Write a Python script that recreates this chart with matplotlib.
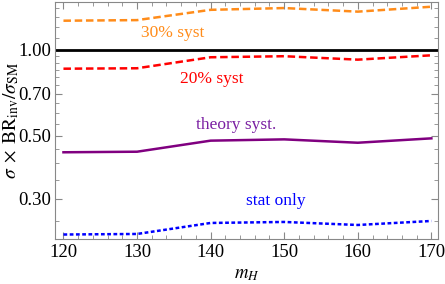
import numpy as np
import matplotlib
matplotlib.use("Agg")
import matplotlib.pyplot as plt
from matplotlib.ticker import FixedLocator, NullFormatter, MultipleLocator

plt.rcParams['font.family'] = ['Liberation Serif', 'DejaVu Serif']
plt.rcParams['mathtext.fontset'] = 'stix'

mh = [120, 130, 140, 150, 160, 170]
syst30 = [1.264, 1.27, 1.38, 1.40, 1.36, 1.415]
syst20 = [0.858, 0.861, 0.941, 0.949, 0.923, 0.956]
theory = [0.437, 0.439, 0.480, 0.485, 0.472, 0.489]
stat = [0.225, 0.226, 0.247, 0.249, 0.243, 0.251]
yticks = [0.30, 0.50, 0.70, 1.00]

fig = plt.figure(figsize=(4.45, 2.84), dpi=100)
ax = fig.add_axes([55/445, 1-239/284, 383/445, 237/284])

ax.axhline(1.0, color='black', lw=2)
ax.plot(mh, syst30, color='#ff8c1a', lw=1.8, ls=(0, (3, 1.5)))
ax.plot(mh, syst20, color='#ff0000', lw=1.8, ls=(0, (3, 1.5)))
ax.plot(mh, theory, color='#800080', lw=1.8)
ax.plot(mh, stat, color='#0000ff', lw=1.8, ls=(0, (1.5, 1)))

ax.text(134.9, 1.147, "30% syst", color='#ff8c1a', fontsize=12.5, ha='center', va='center')
ax.text(140.2, 0.791, "20% syst", color='#ff0000', fontsize=12.5, ha='center', va='center')
ax.text(143.4, 0.545, "theory syst.", color='#7a1fa2', fontsize=12.5, ha='center', va='center')
ax.text(148.9, 0.295, "stat only", color='#0000ff', fontsize=12.5, ha='center', va='center')

ax.set_yscale('log')
ax.set_xlim(118.85, 170.9)
ax.set_ylim(0.217, 1.47)
ax.yaxis.set_major_locator(FixedLocator(yticks))
ax.yaxis.set_major_formatter(plt.FixedFormatter(["%.2f" % v for v in yticks]))
ax.yaxis.set_minor_locator(FixedLocator([0.25, 0.35, 0.4, 0.45, 0.55, 0.6, 0.65, 0.75, 0.8, 0.85, 0.9, 0.95, 1.1, 1.2, 1.3, 1.4]))
ax.yaxis.set_minor_formatter(NullFormatter())
ax.xaxis.set_major_locator(MultipleLocator(10))
ax.xaxis.set_minor_locator(MultipleLocator(2))

ax.tick_params(which='both', direction='in', top=True, right=True, color='#888888', labelsize=13.5)
ax.tick_params(which='major', length=5)
ax.tick_params(which='minor', length=3)
ax.tick_params(axis='y', pad=3)
for s in ax.spines.values():
    s.set_color('#888888')

ax.set_xlabel(r"$m_H$", fontsize=13.5)
ax.set_ylabel(r"$\sigma\;\times\;\mathrm{BR}_{\mathrm{inv}}/\sigma_{\mathrm{SM}}$", fontsize=14)
ax.yaxis.set_label_coords(-0.09, 0.5)

fig.savefig("out.png", dpi=100)
